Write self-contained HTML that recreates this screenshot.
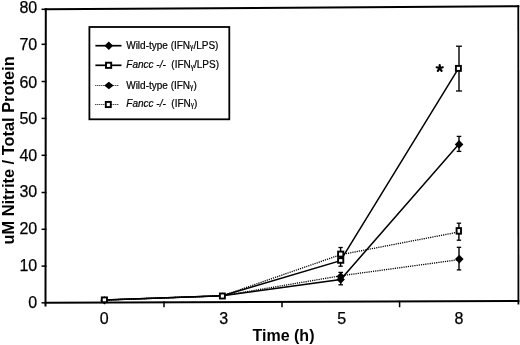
<!DOCTYPE html><html><head><meta charset="utf-8"><style>html,body{margin:0;padding:0;background:#fff;}svg{display:block;will-change:transform}text{font-family:"Liberation Sans",sans-serif;fill:#000}</style></head><body>
<svg width="520" height="345" viewBox="0 0 520 345">
<g stroke="#000" fill="none" stroke-linecap="square">
<line x1="45.8" y1="9.3" x2="518.3" y2="6.2" stroke-width="2"/>
<line x1="518.3" y1="6.2" x2="518.4" y2="303.5" stroke-width="1.8"/>
<line x1="45.7" y1="302.8" x2="518.4" y2="301" stroke-width="2"/>
<line x1="45.8" y1="9.3" x2="45.5" y2="305.5" stroke-width="2"/>
<line x1="42.3" y1="9.3" x2="45.8" y2="9.3" stroke-width="1.5"/>
<line x1="42.3" y1="44.3" x2="45.8" y2="44.3" stroke-width="1.5"/>
<line x1="42.3" y1="81.5" x2="45.8" y2="81.5" stroke-width="1.5"/>
<line x1="42.3" y1="118.4" x2="45.8" y2="118.4" stroke-width="1.5"/>
<line x1="42.3" y1="155.3" x2="45.8" y2="155.3" stroke-width="1.5"/>
<line x1="42.3" y1="192.5" x2="45.8" y2="192.5" stroke-width="1.5"/>
<line x1="42.3" y1="229.3" x2="45.8" y2="229.3" stroke-width="1.5"/>
<line x1="42.3" y1="266.1" x2="45.8" y2="266.1" stroke-width="1.5"/>
<line x1="42.3" y1="302.8" x2="45.8" y2="302.8" stroke-width="1.5"/>
<line x1="164.0" y1="302.34952401100065" x2="164.0" y2="306.5" stroke-width="1.5"/>
<line x1="282.0" y1="301.90019039559974" x2="282.0" y2="306.5" stroke-width="1.5"/>
<line x1="399.6" y1="301.45237994499684" x2="399.6" y2="306.5" stroke-width="1.5"/>
</g>
<text x="37.2" y="13.05" font-size="16" text-anchor="end" stroke="#000" stroke-width="0.25">80</text>
<text x="37.2" y="49.95" font-size="16" text-anchor="end" stroke="#000" stroke-width="0.25">70</text>
<text x="37.2" y="87.70" font-size="16" text-anchor="end" stroke="#000" stroke-width="0.25">60</text>
<text x="37.2" y="124.25" font-size="16" text-anchor="end" stroke="#000" stroke-width="0.25">50</text>
<text x="37.2" y="160.50" font-size="16" text-anchor="end" stroke="#000" stroke-width="0.25">40</text>
<text x="37.2" y="197.05" font-size="16" text-anchor="end" stroke="#000" stroke-width="0.25">30</text>
<text x="37.2" y="233.90" font-size="16" text-anchor="end" stroke="#000" stroke-width="0.25">20</text>
<text x="37.2" y="270.75" font-size="16" text-anchor="end" stroke="#000" stroke-width="0.25">10</text>
<text x="37.2" y="307.65" font-size="16" text-anchor="end" stroke="#000" stroke-width="0.25">0</text>
<text x="104.1" y="323.5" font-size="16" text-anchor="middle" stroke="#000" stroke-width="0.25">0</text>
<text x="223.8" y="323.5" font-size="16" text-anchor="middle" stroke="#000" stroke-width="0.25">3</text>
<text x="341.6" y="323.5" font-size="16" text-anchor="middle" stroke="#000" stroke-width="0.25">5</text>
<text x="458.9" y="323.5" font-size="16" text-anchor="middle" stroke="#000" stroke-width="0.25">8</text>
<text x="283.5" y="340.8" font-size="16" font-weight="bold" text-anchor="middle">Time (h)</text>
<text transform="translate(13.9,150.45) rotate(-90)" x="0" y="0" font-size="16.4" font-weight="bold" text-anchor="middle">uM Nitrite / Total Protein</text>
<line x1="459.0" y1="46.2" x2="459.0" y2="91.0" stroke="#000" stroke-width="1.4"/><line x1="456.0" y1="46.2" x2="462.0" y2="46.2" stroke="#000" stroke-width="1.3"/><line x1="456.0" y1="91.0" x2="462.0" y2="91.0" stroke="#000" stroke-width="1.3"/>
<line x1="459.0" y1="136.4" x2="459.0" y2="151.4" stroke="#000" stroke-width="1.4"/><line x1="456.7" y1="136.4" x2="461.3" y2="136.4" stroke="#000" stroke-width="1.3"/><line x1="456.7" y1="151.4" x2="461.3" y2="151.4" stroke="#000" stroke-width="1.3"/>
<line x1="458.9" y1="223.2" x2="458.9" y2="240.2" stroke="#000" stroke-width="1.4"/><line x1="456.7" y1="223.2" x2="461.09999999999997" y2="223.2" stroke="#000" stroke-width="1.3"/><line x1="456.7" y1="240.2" x2="461.09999999999997" y2="240.2" stroke="#000" stroke-width="1.3"/>
<line x1="459.0" y1="247.3" x2="459.0" y2="269.9" stroke="#000" stroke-width="1.4"/><line x1="456.8" y1="247.3" x2="461.2" y2="247.3" stroke="#000" stroke-width="1.3"/><line x1="456.8" y1="269.9" x2="461.2" y2="269.9" stroke="#000" stroke-width="1.3"/>
<line x1="340.6" y1="247.5" x2="340.6" y2="266.2" stroke="#000" stroke-width="1.4"/><line x1="338.40000000000003" y1="247.5" x2="342.8" y2="247.5" stroke="#000" stroke-width="1.3"/><line x1="338.40000000000003" y1="266.2" x2="342.8" y2="266.2" stroke="#000" stroke-width="1.3"/>
<line x1="340.7" y1="272.4" x2="340.7" y2="284.8" stroke="#000" stroke-width="1.4"/><line x1="338.4" y1="272.4" x2="343.0" y2="272.4" stroke="#000" stroke-width="1.3"/><line x1="338.4" y1="284.8" x2="343.0" y2="284.8" stroke="#000" stroke-width="1.3"/>
<polyline points="104.4,300.0 222.4,295.8 340.7,275.8 459.2,259.6" fill="none" stroke="#000" stroke-width="1.3" stroke-dasharray="1.2 1"/>
<polyline points="104.4,300.0 222.4,295.8 340.5,254.7 458.8,232.0" fill="none" stroke="#000" stroke-width="1.3" stroke-dasharray="1.2 1"/>
<polyline points="104.4,300.0 222.4,295.8 340.7,279.5 459.0,143.9" fill="none" stroke="#000" stroke-width="1.5"/>
<polyline points="104.4,300.0 222.4,295.8 340.5,260.7 458.5,68.4" fill="none" stroke="#000" stroke-width="1.5"/>
<path d="M100.30 300.30L104.40 296.20L108.50 300.30L104.40 304.40Z" fill="#000"/>
<path d="M219.00 295.80L222.40 292.40L225.80 295.80L222.40 299.20Z" fill="#000"/>
<path d="M336.50 279.60L340.70 275.40L344.90 279.60L340.70 283.80Z" fill="#000"/>
<path d="M454.80 144.40L459.10 140.10L463.40 144.40L459.10 148.70Z" fill="#000"/>
<path d="M336.50 276.50L340.70 272.30L344.90 276.50L340.70 280.70Z" fill="#000"/>
<path d="M455.00 259.10L459.30 254.80L463.60 259.10L459.30 263.40Z" fill="#000"/>
<rect x="101.80" y="297.40" width="5.2" height="4.8" fill="#fff" stroke="#000" stroke-width="1.9"/>
<rect x="219.90" y="293.50" width="5.0" height="5.0" fill="#fff" stroke="#000" stroke-width="1.9"/>
<rect x="338.10" y="258.20" width="5.2" height="4.6" fill="#fff" stroke="#000" stroke-width="1.9"/>
<rect x="455.90" y="65.90" width="5.0" height="5.0" fill="#fff" stroke="#000" stroke-width="1.9"/>
<rect x="338.10" y="251.60" width="5.2" height="5.0" fill="#fff" stroke="#000" stroke-width="1.9"/>
<rect x="456.60" y="228.10" width="4.4" height="5.6" fill="#fff" stroke="#000" stroke-width="1.9"/>
<path d="M439.70 68.30L439.70 65.10M439.70 68.30L442.74 67.31M439.70 68.30L441.58 70.89M439.70 68.30L437.82 70.89M439.70 68.30L436.66 67.31" stroke="#000" stroke-width="2.2" stroke-linecap="round" fill="none"/>
<rect x="89.4" y="27" width="139.9" height="92.3" fill="#fff" stroke="#000" stroke-width="1.8"/>
<line x1="95.4" y1="45.7" x2="121.5" y2="45.7" stroke="#000" stroke-width="1.7"/>
<path d="M104.50 45.70L108.80 41.40L113.10 45.70L108.80 50.00Z" fill="#000"/>
<line x1="95.4" y1="65.3" x2="121.5" y2="65.3" stroke="#000" stroke-width="1.7"/>
<rect x="106.00" y="62.70" width="5.2" height="5.2" fill="#fff" stroke="#000" stroke-width="1.9"/>
<line x1="95.3" y1="85.5" x2="119.1" y2="85.5" stroke="#000" stroke-width="1.2" stroke-dasharray="1 1"/>
<path d="M104.20 85.50L108.90 81.80L113.60 85.50L108.90 89.20Z" fill="#000"/>
<line x1="95.3" y1="104.5" x2="119.1" y2="104.5" stroke="#000" stroke-width="1.2" stroke-dasharray="1 1"/>
<rect x="105.80" y="101.90" width="5.0" height="5.2" fill="#fff" stroke="#000" stroke-width="1.9"/>
<text x="126.2" y="48.6" font-size="10" stroke="#000" stroke-width="0.2">Wild-type (IFN<tspan font-size="7.4" font-family="Liberation Serif" dy="0.6">γ</tspan><tspan dy="-0.6">/LPS)</tspan></text>
<text x="126.3" y="68.2" font-size="10" stroke="#000" stroke-width="0.2"><tspan font-style="italic">Fancc -/-</tspan>&#160; (IFN<tspan font-size="7.4" font-family="Liberation Serif" dy="0.6">γ</tspan><tspan dy="-0.6">/LPS)</tspan></text>
<text x="126.2" y="88.8" font-size="10" stroke="#000" stroke-width="0.2">Wild-type (IFN<tspan font-size="7.4" font-family="Liberation Serif" dy="0.6">γ</tspan><tspan dy="-0.6">)</tspan></text>
<text x="126.3" y="106.6" font-size="10" stroke="#000" stroke-width="0.2"><tspan font-style="italic">Fancc -/-</tspan>&#160; (IFN<tspan font-size="7.4" font-family="Liberation Serif" dy="0.6">γ</tspan><tspan dy="-0.6">)</tspan></text>
</svg></body></html>
